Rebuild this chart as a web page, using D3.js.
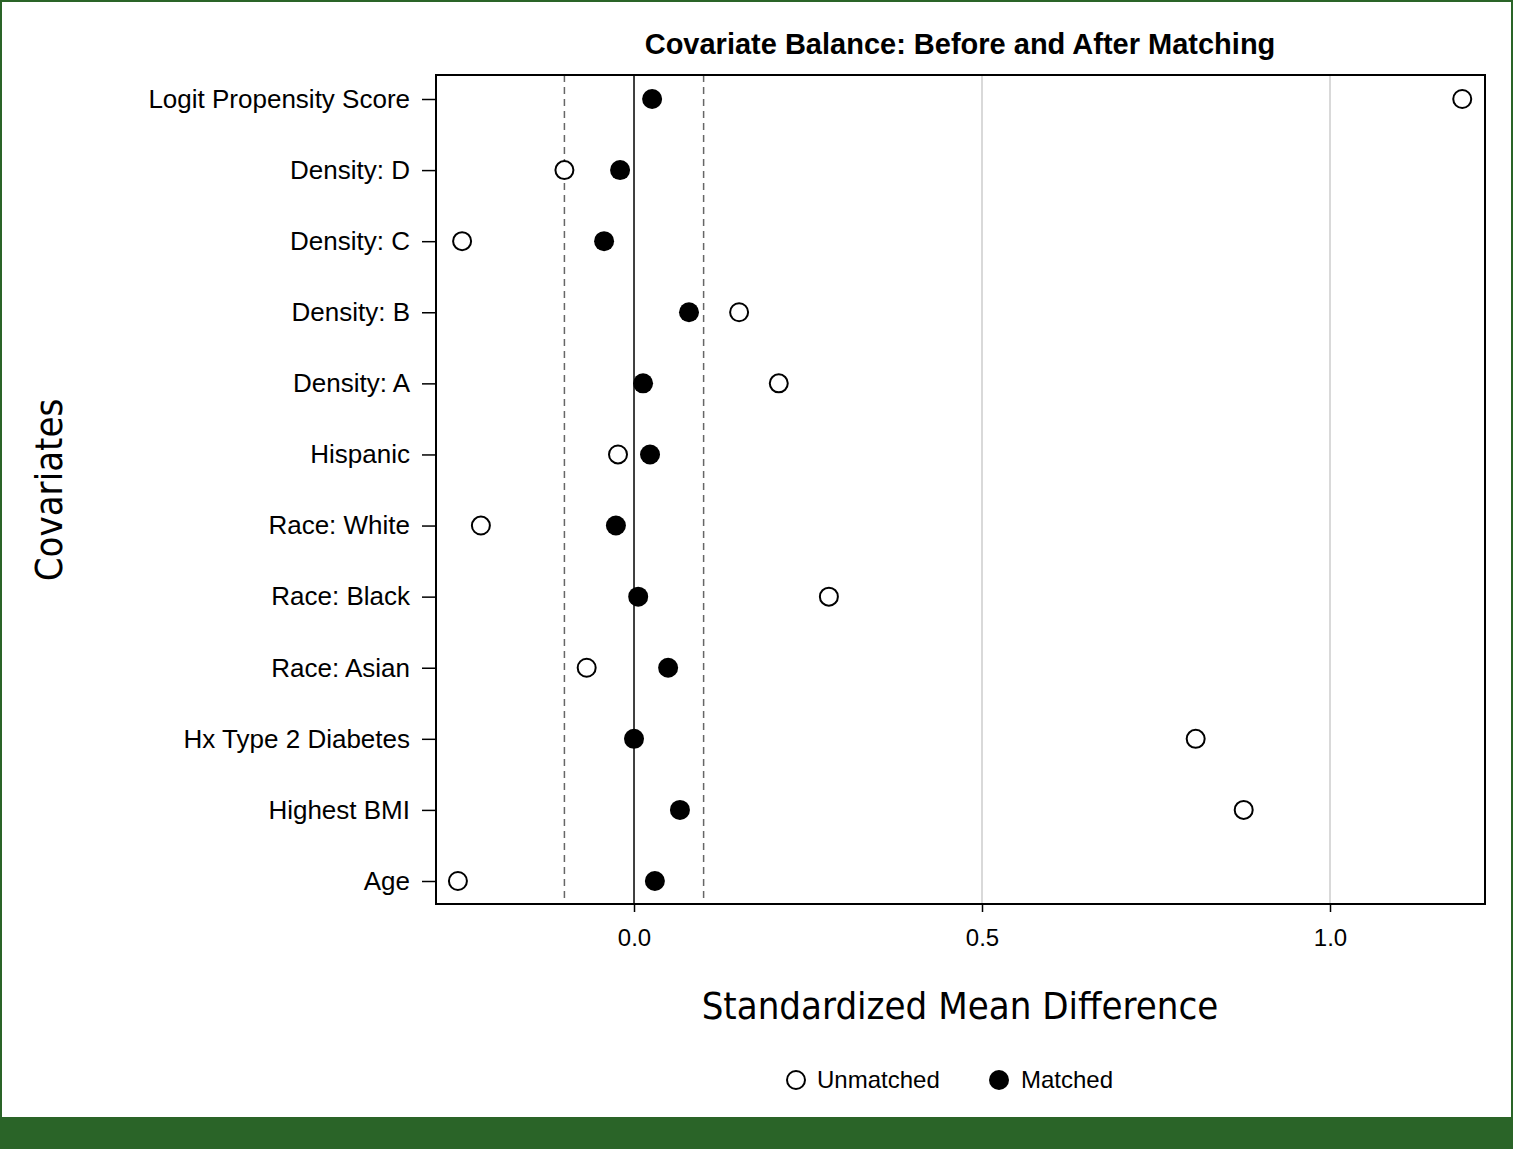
<!DOCTYPE html>
<html lang="en">
<head>
<meta charset="UTF-8">
<script src="https://cdn.jsdelivr.net/npm/d3@7"></script>
<style>
  body { margin: 0; background: #fff; }
  text { font-family: "Liberation Sans", Arial, sans-serif; fill: #000; }
</style>
</head>
<body>
<script>
// covariates, top to bottom
const covariates = ["Logit Propensity Score", "Density: D", "Density: C", "Density: B", "Density: A",
  "Hispanic", "Race: White", "Race: Black", "Race: Asian", "Hx Type 2 Diabetes", "Highest BMI", "Age"];
const unmatched = [1.19, -0.10, -0.247, 0.151, 0.208, -0.023, -0.22, 0.28, -0.068, 0.807, 0.876, -0.253];
const matched = [0.026, -0.02, -0.043, 0.079, 0.013, 0.023, -0.026, 0.006, 0.049, 0.0, 0.066, 0.030];
const xTicks = [0.0, 0.5, 1.0];
const thresholds = [-0.1, 0.1];

const W = 1513, H = 1149;
const svg = d3.select("body").append("svg").attr("width", W).attr("height", H);

// green frame + footer band
svg.append("rect").attr("x", 1).attr("y", 1).attr("width", W - 2).attr("height", H - 2)
  .attr("fill", "none").attr("stroke", "#2a6428").attr("stroke-width", 2);
svg.append("rect").attr("x", 0).attr("y", 1117).attr("width", W).attr("height", 32).attr("fill", "#2a6428");

const pLeft = 436, pRight = 1485, pTop = 75, pBottom = 904;
const x = d3.scaleLinear().domain([-0.2845, 1.2227]).range([pLeft, pRight]);
const y = d3.scalePoint().domain(covariates).range([99, 881]);

// grid lines
svg.selectAll(".grid").data([0.5, 1.0]).enter().append("line")
  .attr("x1", d => x(d)).attr("x2", d => x(d)).attr("y1", pTop).attr("y2", pBottom)
  .attr("stroke", "#d9d9d9").attr("stroke-width", 2);
svg.selectAll(".thr").data(thresholds).enter().append("line")
  .attr("x1", d => x(d)).attr("x2", d => x(d)).attr("y1", pTop).attr("y2", pBottom)
  .attr("stroke", "#666").attr("stroke-width", 1.5).attr("stroke-dasharray", "7,5");
svg.append("line").attr("x1", x(0)).attr("x2", x(0)).attr("y1", pTop).attr("y2", pBottom)
  .attr("stroke", "#000").attr("stroke-width", 1.5);

// frame
svg.append("rect").attr("x", pLeft).attr("y", pTop).attr("width", pRight - pLeft).attr("height", pBottom - pTop)
  .attr("fill", "none").attr("stroke", "#000").attr("stroke-width", 2);

// axes
const xAxis = svg.append("g").attr("transform", `translate(0,${pBottom})`)
  .call(d3.axisBottom(x).tickValues(xTicks).tickFormat(d3.format(".1f")).tickSize(8));
xAxis.select(".domain").remove();
xAxis.selectAll("text").attr("font-size", 24).attr("dy", "1.3em");
xAxis.selectAll("line").attr("stroke-width", 1.5);

const yAxis = svg.append("g").attr("transform", `translate(${pLeft},0)`)
  .call(d3.axisLeft(y).tickSize(14).tickPadding(12));
yAxis.select(".domain").remove();
yAxis.selectAll("text").attr("font-size", 26);
yAxis.selectAll("line").attr("stroke-width", 1.5);

// points
svg.selectAll(".unm").data(unmatched).enter().append("circle")
  .attr("cx", d => x(d)).attr("cy", (d, i) => y(covariates[i])).attr("r", 9)
  .attr("fill", "#fff").attr("stroke", "#000").attr("stroke-width", 2);
svg.selectAll(".mat").data(matched).enter().append("circle")
  .attr("cx", d => x(d)).attr("cy", (d, i) => y(covariates[i])).attr("r", 10)
  .attr("fill", "#000");

// titles
svg.append("text").attr("x", 960).attr("y", 54).attr("text-anchor", "middle")
  .attr("font-size", 29).attr("font-weight", "bold").text("Covariate Balance: Before and After Matching");
svg.append("text").attr("x", 960).attr("y", 1019).attr("text-anchor", "middle")
  .attr("font-size", 38).style("font-family", "'Liberation Sans Narrow', 'DejaVu Sans Condensed', sans-serif")
  .text("Standardized Mean Difference");
svg.append("text").attr("transform", "translate(62,490) rotate(-90)").attr("text-anchor", "middle")
  .attr("font-size", 38).style("font-family", "'Liberation Sans Narrow', 'DejaVu Sans Condensed', sans-serif")
  .text("Covariates");

// legend
const lg = svg.append("g");
lg.append("circle").attr("cx", 796).attr("cy", 1080).attr("r", 9).attr("fill", "#fff").attr("stroke", "#000").attr("stroke-width", 2);
lg.append("text").attr("x", 817).attr("y", 1088).attr("font-size", 24).text("Unmatched");
lg.append("circle").attr("cx", 999).attr("cy", 1080).attr("r", 10).attr("fill", "#000");
lg.append("text").attr("x", 1021).attr("y", 1088).attr("font-size", 24).text("Matched");
</script>
</body>
</html>
